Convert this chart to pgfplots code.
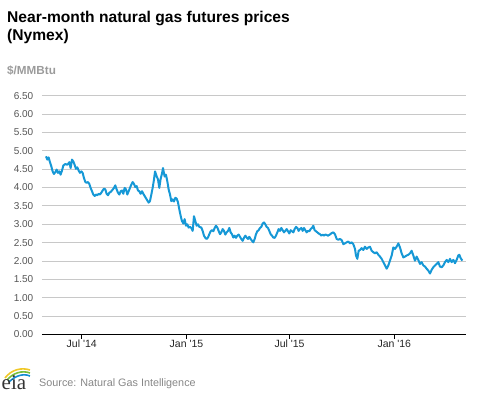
\documentclass[border=0pt]{standalone}
\usepackage{fontspec}
\setmainfont{Liberation Sans}
\newfontfamily\logofont{Liberation Serif}
\usepackage{pgfplots}
\pgfplotsset{compat=1.18}
\definecolor{eiablue}{RGB}{22,152,214}
\definecolor{gridgray}{RGB}{200,200,200}
\definecolor{unitgray}{RGB}{155,155,155}
\definecolor{ticktext}{RGB}{85,85,85}
\definecolor{srcgray}{RGB}{135,135,135}
\definecolor{logogreen}{RGB}{120,190,60}
\definecolor{logoyellow}{RGB}{240,200,40}
\definecolor{logoblue}{RGB}{20,140,210}

\begin{document}
\begin{tikzpicture}[x=1pt,y=1pt]
\begin{scope}[shift={(-42,334.5)}]
\useasboundingbox (0,0) rectangle (477,-393);
\node[anchor=base west, inner sep=0pt, font=\fontsize{15.6}{18}\selectfont\bfseries] at (7,-22.5) {Near-month natural gas futures prices};
\node[anchor=base west, inner sep=0pt, font=\fontsize{15.6}{18}\selectfont\bfseries] at (7,-40.5) {(Nymex)};
\node[anchor=base west, inner sep=0pt, font=\fontsize{11.7}{14}\selectfont\bfseries, text=unitgray] at (7,-75) {\$/MMBtu};
% eia logo
\draw[logoyellow, line width=1.6pt] (5,-378) .. controls (11,-370) and (21,-367) .. (30,-370);
\draw[logogreen, line width=1.6pt] (7,-380) .. controls (13,-373) and (22,-370) .. (30,-373);
\draw[logoblue, line width=1.6pt] (9,-382) .. controls (15,-376) and (23,-373) .. (30,-376);
\node[anchor=base west, inner sep=0pt, text depth=0pt, font=\logofont\fontsize{21}{24}\selectfont, text=black!80] at (1.5,-390) {eia};
\node[anchor=base west, inner sep=0pt, font=\fontsize{10.8}{13}\selectfont, text=srcgray] at (39,-386.5) {Source: Natural Gas Intelligence};
\end{scope}
\begin{axis}[
  anchor=south west,
  scale only axis, width=423.7pt, height=238.8pt,
  xmin=111.3, xmax=855.4, ymin=0, ymax=6.5,
  axis lines*=left,
  y axis line style={draw=none},
  x axis line style={black, line width=1pt, -},
  ytick={0,0.5,1,1.5,2,2.5,3,3.5,4,4.5,5,5.5,6,6.5},
  ytick style={draw=none},
  xtick={181,365,546,730},
  xticklabels={Jul \textquotesingle14, Jan \textquotesingle15, Jul \textquotesingle15, Jan \textquotesingle16},
  xtick style={black, line width=0.8pt},
  tick align=outside,
  major tick length=4.5pt,
  ymajorgrids,
  major grid style={line width=1pt, color=gridgray},
  /pgf/number format/assume math mode=true,
  yticklabel={\pgfmathprintnumber[fixed, fixed zerofill, precision=2]{\tick}},
  yticklabel style={font=\fontsize{10}{12}\selectfont, text=ticktext, anchor=east, inner sep=0pt, xshift=-4pt},
  xticklabel style={font=\fontsize{10.5}{12}\selectfont, text=black!85, anchor=north, inner sep=0pt, yshift=-1pt},
  clip=false,
]
\addplot[color=eiablue, line width=2pt, line join=round] table {
x y
118.3 4.85
120.6 4.76
123.0 4.82
125.3 4.69
127.6 4.58
130.0 4.44
132.3 4.37
134.7 4.42
137.0 4.49
139.4 4.40
141.7 4.44
144.0 4.35
146.4 4.46
148.7 4.60
152.2 4.64
155.8 4.62
159.3 4.69
161.6 4.53
164.0 4.76
166.3 4.71
168.6 4.62
171.0 4.51
173.3 4.55
175.7 4.46
178.0 4.40
180.3 4.44
182.7 4.40
185.0 4.26
187.4 4.15
189.7 4.13
192.0 4.15
194.4 4.10
196.7 3.99
199.1 3.90
201.4 3.81
203.8 3.77
206.1 3.81
208.4 3.79
210.8 3.83
213.1 3.81
215.5 3.86
217.8 3.92
220.1 3.97
222.5 3.95
224.8 3.83
227.2 3.79
229.5 3.86
231.9 3.88
234.2 3.92
237.7 3.99
240.0 4.06
242.4 3.95
244.7 3.86
247.1 3.81
249.4 3.90
251.8 3.92
254.1 3.83
256.4 3.99
258.8 3.95
261.1 3.81
263.5 3.90
265.8 3.99
268.2 4.08
270.5 4.15
272.8 4.10
275.2 4.01
277.5 4.04
279.9 3.92
282.2 3.90
284.5 3.83
286.9 3.90
289.2 3.83
291.6 3.77
293.9 3.71
296.2 3.65
298.6 3.59
300.9 3.63
303.3 3.81
305.6 3.99
308.0 4.22
309.8 4.44
312.6 4.31
315.0 4.22
317.3 3.99
319.7 4.24
322.0 4.38
323.8 4.53
326.7 4.30
329.0 4.35
331.4 4.17
333.7 3.95
336.1 3.81
338.4 3.63
340.7 3.68
343.1 3.62
345.4 3.72
347.8 3.70
350.1 3.60
352.4 3.41
354.8 3.23
357.1 3.09
359.5 3.02
361.8 3.14
364.2 2.96
366.5 3.00
368.8 2.91
371.2 2.93
373.5 2.90
375.9 2.82
378.2 3.22
380.5 3.09
382.9 2.96
385.2 3.00
387.6 2.93
391.1 2.91
393.4 2.82
395.8 2.69
398.1 2.63
400.5 2.60
402.8 2.64
405.1 2.73
407.5 2.81
409.8 2.84
412.2 2.81
414.5 2.90
416.9 2.96
419.2 2.91
421.5 2.82
423.9 2.73
426.2 2.78
428.6 2.87
430.9 2.82
433.2 2.72
435.6 2.78
437.9 2.82
440.3 2.90
442.6 2.78
444.9 2.73
447.3 2.64
449.6 2.69
452.0 2.63
454.3 2.69
456.7 2.72
459.0 2.66
461.3 2.60
463.7 2.55
466.0 2.63
468.4 2.69
470.7 2.64
473.1 2.60
475.4 2.66
477.7 2.60
480.1 2.55
482.4 2.51
484.8 2.60
487.1 2.73
489.4 2.81
491.8 2.84
494.1 2.90
496.5 2.93
498.8 3.02
501.2 3.05
503.5 3.00
505.8 2.93
508.2 2.90
510.5 2.82
512.9 2.73
515.2 2.69
517.5 2.64
519.9 2.63
522.2 2.69
524.6 2.78
526.9 2.87
529.3 2.82
531.6 2.90
533.9 2.84
536.3 2.78
538.6 2.82
541.0 2.87
543.3 2.81
545.6 2.75
548.0 2.84
550.3 2.81
552.7 2.78
555.0 2.87
557.4 2.93
559.7 2.90
562.0 2.82
564.4 2.87
566.7 2.90
569.1 2.82
571.4 2.90
573.7 2.84
576.1 2.78
578.4 2.82
580.8 2.81
583.1 2.87
585.4 2.90
587.8 2.96
590.1 2.84
592.5 2.81
594.8 2.78
597.2 2.75
599.5 2.73
601.8 2.69
604.2 2.72
606.5 2.69
608.9 2.72
611.2 2.71
613.5 2.69
615.9 2.71
620.0 2.76
622.9 2.78
625.8 2.73
628.8 2.60
631.7 2.58
634.6 2.60
637.6 2.57
640.5 2.46
643.4 2.48
646.3 2.51
649.3 2.53
652.2 2.48
655.1 2.51
658.0 2.46
661.0 2.33
662.7 2.15
665.1 2.06
667.4 2.28
669.7 2.30
672.7 2.35
675.6 2.30
678.5 2.39
681.5 2.33
684.4 2.37
687.3 2.39
690.2 2.28
693.2 2.24
696.1 2.21
699.0 2.24
702.0 2.17
704.9 2.12
707.8 2.06
710.7 1.97
713.7 1.88
716.6 1.79
719.5 1.88
722.4 2.01
725.4 2.15
728.3 2.37
731.2 2.33
734.1 2.39
737.1 2.48
740.0 2.37
742.9 2.21
745.9 2.10
748.8 2.12
751.7 2.15
754.6 2.17
757.6 2.21
760.5 2.28
763.4 2.15
766.3 2.01
769.3 2.12
772.2 2.03
775.1 1.92
778.1 1.97
781.0 1.88
783.9 1.85
786.8 1.79
789.8 1.74
792.7 1.66
795.6 1.76
798.5 1.83
801.5 1.88
804.4 1.92
807.3 1.97
810.2 1.85
813.2 1.83
816.1 1.88
819.0 1.97
822.0 2.03
824.9 1.97
827.8 2.06
830.7 1.97
833.7 2.03
836.6 1.94
839.5 2.03
842.4 2.15
844.2 2.17
846.5 2.08
849.5 2.01
};
\end{axis}
\end{tikzpicture}
\end{document}
